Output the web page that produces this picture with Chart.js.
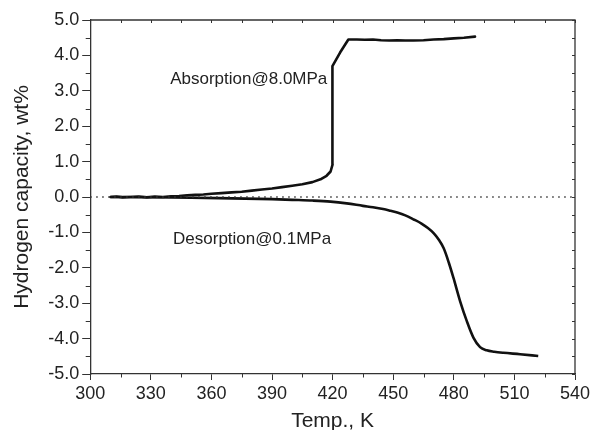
<!DOCTYPE html>
<html>
<head>
<meta charset="utf-8">
<script src="https://cdn.jsdelivr.net/npm/chart.js@4/dist/chart.umd.min.js"></script>
<style>
  html, body { margin: 0; padding: 0; background: #fff; }
  #wrap { width: 590px; height: 430px; }
</style>
</head>
<body>
<div id="wrap"><canvas id="c" width="590" height="430"></canvas></div>
<script>
// ---- data ----
const absorptionT = [310, 313, 316, 320, 324, 328, 332, 336, 340, 344, 348, 352, 356, 360, 365, 370, 375, 380, 385, 390, 395, 400, 405, 410, 414, 417, 419, 420, 419.9, 419.8, 419.85, 420.1, 423.7, 427.8, 432, 436, 440, 444, 448, 452, 456, 460, 465, 470, 475, 480, 485, 490.5];
const absorptionV = [0.00, 0.01, -0.01, 0.00, 0.01, -0.01, 0.01, 0.00, 0.02, 0.03, 0.05, 0.06, 0.07, 0.09, 0.11, 0.13, 0.15, 0.18, 0.21, 0.24, 0.28, 0.32, 0.36, 0.42, 0.50, 0.60, 0.72, 0.92, 1.5, 2.2, 3.0, 3.70, 4.08, 4.45, 4.45, 4.44, 4.45, 4.43, 4.42, 4.43, 4.42, 4.42, 4.43, 4.45, 4.46, 4.48, 4.50, 4.53];

const desorptionT = [310, 330, 350, 370, 390, 400, 410, 419, 427, 435, 440, 445, 448, 452, 456, 460, 464, 467, 470, 472.5, 475, 477.5, 479.8, 483.1, 486.4, 489.7, 493, 496.3, 500, 504.5, 512.8, 521.8];
const desorptionV = [0.00, -0.005, -0.02, -0.04, -0.06, -0.08, -0.10, -0.13, -0.18, -0.25, -0.29, -0.34, -0.38, -0.44, -0.52, -0.63, -0.75, -0.87, -1.02, -1.20, -1.45, -1.85, -2.28, -2.94, -3.50, -3.97, -4.24, -4.33, -4.37, -4.40, -4.44, -4.49];

const zeroLineT = [300, 540];
const zeroLineV = [0, 0];

const xTickRange = { min: 300, max: 540, step: 30, minor: 15 };
const yTickRange = { min: -5, max: 5, step: 1, minor: 0.5 };

const labels = [
  { text: "Absorption@8.0MPa", x: 339.6, y: 3.33 },
  { text: "Desorption@0.1MPa", x: 341.0, y: -1.19 }
];

const FONT = "'Liberation Sans', Arial, Helvetica, sans-serif";
const INK = "#222";

function toPoints(xs, ys) { return xs.map((x, i) => ({ x: x, y: ys[i] })); }

const framePlugin = {
  id: 'frame',
  afterDraw(chart) {
    const { ctx, chartArea: a, scales } = chart;
    const xs = scales.x, ys = scales.y;
    ctx.save();
    ctx.strokeStyle = '#333';
    ctx.lineWidth = 1.3;
    ctx.beginPath();
    ctx.moveTo(a.left, a.top); ctx.lineTo(a.right, a.top); ctx.lineTo(a.right, a.bottom);
    ctx.stroke();
    ctx.lineWidth = 1;
    ctx.beginPath();
    for (let v = xTickRange.min; v <= xTickRange.max + 1e-9; v += xTickRange.minor) {
      const px = Math.round(xs.getPixelForValue(v)) + 0.5;
      const isMajor = Math.abs((v - xTickRange.min) % xTickRange.step) < 1e-6;
      if (!isMajor) { ctx.moveTo(px, a.bottom); ctx.lineTo(px, a.bottom + 3.5); }
      ctx.moveTo(px, a.top); ctx.lineTo(px, a.top + 3);
    }
    for (let v = yTickRange.min; v <= yTickRange.max + 1e-9; v += yTickRange.minor) {
      const py = Math.round(ys.getPixelForValue(v)) + 0.5;
      const isMajor = Math.abs(Math.round(v) - v) < 1e-6;
      if (!isMajor) { ctx.moveTo(a.left, py); ctx.lineTo(a.left - 4.5, py); }
      ctx.moveTo(a.right, py); ctx.lineTo(a.right - 3, py);
    }
    ctx.stroke();
    ctx.fillStyle = INK;
    ctx.font = "17px " + FONT;
    ctx.textBaseline = 'middle';
    ctx.textAlign = 'left';
    labels.forEach(l => ctx.fillText(l.text, xs.getPixelForValue(l.x), ys.getPixelForValue(l.y)));
    ctx.restore();
  }
};

new Chart(document.getElementById('c'), {
  type: 'scatter',
  data: {
    datasets: [
      {
        data: toPoints(zeroLineT, zeroLineV),
        showLine: true, borderColor: '#333', borderWidth: 1.5, borderDash: [1.5, 4.5],
        pointRadius: 0, tension: 0
      },
      {
        data: toPoints(absorptionT, absorptionV),
        showLine: true, borderColor: '#111', borderWidth: 2.6, pointRadius: 0,
        tension: 0, borderJoinStyle: 'round', borderCapStyle: 'round'
      },
      {
        data: toPoints(desorptionT, desorptionV),
        showLine: true, borderColor: '#111', borderWidth: 2.6, pointRadius: 0,
        cubicInterpolationMode: 'monotone', borderCapStyle: 'butt'
      }
    ]
  },
  options: {
    responsive: false,
    animation: false,
    devicePixelRatio: 1,
    layout: { padding: { left: 10, right: 15, top: 20, bottom: 0 } },
    plugins: { legend: { display: false }, tooltip: { enabled: false } },
    scales: {
      x: {
        type: 'linear', min: xTickRange.min, max: xTickRange.max,
        afterFit: s => { s.paddingRight = 0; },
        ticks: { stepSize: xTickRange.step, color: INK, font: { family: FONT, size: 18 }, padding: 3, maxRotation: 0 },
        grid: { drawOnChartArea: false, drawTicks: true, tickLength: 6, color: '#333', lineWidth: 1 },
        border: { display: true, color: '#333', width: 1.3 },
        title: { display: true, text: 'Temp., K', color: INK, font: { family: FONT, size: 21, lineHeight: 0.8 }, padding: { top: 5.6, bottom: 0 } }
      },
      y: {
        type: 'linear', min: yTickRange.min, max: yTickRange.max,
        ticks: { stepSize: yTickRange.step, color: INK, font: { family: FONT, size: 18 }, padding: 3,
                 callback: v => Number(v).toFixed(1) },
        grid: { drawOnChartArea: false, drawTicks: true, tickLength: 8, color: '#333', lineWidth: 1 },
        border: { display: true, color: '#333', width: 1.3 },
        title: { display: true, text: 'Hydrogen capacity, wt%', color: INK, font: { family: FONT, size: 21 }, padding: { top: 0, bottom: 10 } }
      }
    }
  },
  plugins: [framePlugin]
});
</script>
</body>
</html>
